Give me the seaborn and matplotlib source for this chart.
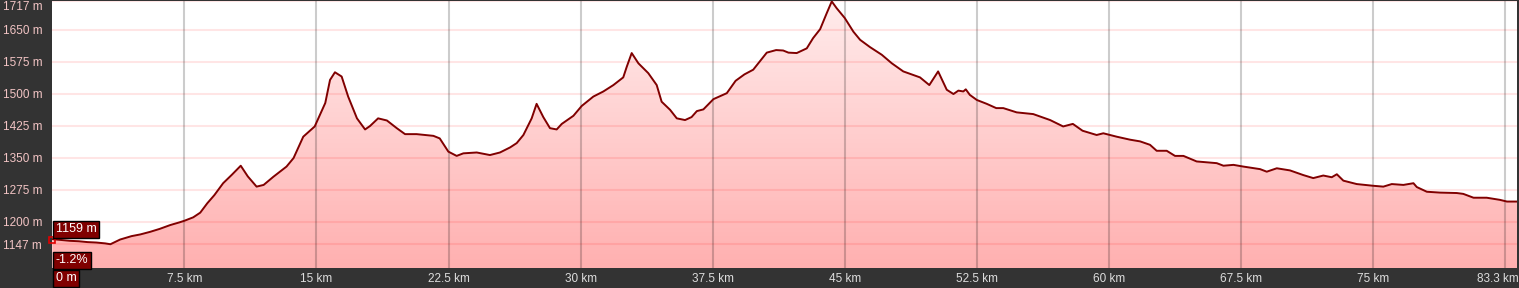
import numpy as np
import pandas as pd
import matplotlib
matplotlib.use("Agg")
import matplotlib.pyplot as plt
import matplotlib.transforms as mtransforms
from matplotlib.colors import LinearSegmentedColormap
import seaborn as sns

# ---- data ----
distance_km = [0.0, 0.5, 1.0, 1.5, 2.0, 2.5, 3.0, 3.3, 3.85, 4.5, 5.0, 5.55, 6.1, 6.7, 7.2, 7.5,
               8.0, 8.4, 8.8, 9.2, 9.7, 10.2, 10.7, 11.1, 11.6, 12.0, 12.55, 13.3, 13.7, 14.25,
               14.9, 15.5, 15.77, 16.05, 16.43, 16.8, 17.3, 17.76, 18.04, 18.5, 19.0, 19.56,
               20.03, 20.69, 21.64, 22.0, 22.49, 22.96, 23.34, 24.1, 24.85, 25.42, 26.0, 26.37,
               26.75, 27.22, 27.5, 27.88, 28.26, 28.64, 28.93, 29.59, 30.06, 30.72, 31.29, 31.86,
               32.42, 32.62, 32.9, 33.28, 33.84, 34.32, 34.6, 35.08, 35.46, 35.93, 36.3, 36.6,
               36.97, 37.54, 38.3, 38.8, 39.3, 39.8, 40.57, 41.1, 41.5, 41.8, 42.27, 42.84, 43.2,
               43.6, 43.97, 44.26, 44.54, 45.0, 45.49, 45.87, 46.43, 47.1, 47.67, 48.32, 49.27,
               49.8, 50.3, 50.79, 51.17, 51.45, 51.73, 51.87, 52.1, 52.5, 53.06, 53.6, 54.0, 54.76,
               55.7, 56.66, 57.4, 57.95, 58.5, 59.3, 59.68, 60.44, 61.2, 61.77, 62.33, 62.71,
               63.28, 63.75, 64.23, 64.98, 66.12, 66.5, 67.07, 67.63, 68.58, 68.96, 69.53, 70.28,
               71.04, 71.6, 72.17, 72.65, 72.94, 73.31, 74.07, 75.0, 75.58, 76.06, 76.72, 77.29,
               77.48, 78.05, 78.8, 79.75, 80.12, 80.7, 81.45, 82.2, 82.6, 83.25]
elevation_m = [1159, 1157, 1155, 1154, 1152, 1151, 1149, 1147, 1158, 1166, 1170, 1176, 1183, 1192, 1198, 1202,
               1210, 1221, 1243, 1262, 1290, 1310, 1331, 1306, 1282, 1286, 1305, 1329, 1349, 1399,
               1423, 1478, 1532, 1550, 1540, 1493, 1442, 1416, 1424, 1442, 1437, 1419,
               1405, 1405, 1401, 1395, 1364, 1354, 1360, 1362, 1356, 1362, 1374, 1384,
               1403, 1442, 1476, 1445, 1419, 1416, 1429, 1448, 1471, 1493, 1505, 1520,
               1538, 1563, 1595, 1571, 1548, 1520, 1481, 1462, 1442, 1438, 1445, 1459,
               1463, 1487, 1501, 1530, 1545, 1556, 1596, 1602, 1601, 1596, 1595, 1606, 1630,
               1651, 1688, 1716, 1700, 1677, 1645, 1626, 1609, 1591, 1571, 1552, 1538,
               1520, 1552, 1509, 1499, 1507, 1505, 1510, 1497, 1485, 1476, 1466, 1466, 1456,
               1452, 1438, 1423, 1429, 1413, 1403, 1407, 1399, 1392, 1388, 1380, 1366,
               1366, 1354, 1354, 1341, 1337, 1331, 1333, 1329, 1323, 1317, 1325, 1320,
               1309, 1302, 1308, 1304, 1311, 1296, 1288, 1284, 1282, 1288, 1286, 1290,
               1281, 1270, 1268, 1267, 1265, 1256, 1256, 1251, 1247, 1247]

y_ticks = [1147, 1200, 1275, 1350, 1425, 1500, 1575, 1650, 1717]
y_tick_labels = ["1147 m", "1200 m", "1275 m", "1350 m", "1425 m", "1500 m", "1575 m", "1650 m", "1717 m"]
x_ticks = [7.5, 15, 22.5, 30, 37.5, 45, 52.5, 60, 67.5, 75, 82.5]
x_tick_labels = ["7.5 km", "15 km", "22.5 km", "30 km", "37.5 km", "45 km", "52.5 km",
                 "60 km", "67.5 km", "75 km", "83.3 km"]
current_elev_label = "1159 m"
grade_label = "-1.2%"
distance_label = "0 m"

df = pd.DataFrame({"km": distance_km, "elev": elevation_m})

W, H = 1519, 288
DARK = "#333333"
FS = 8.5
plt.rcParams["font.family"] = ["Liberation Sans", "DejaVu Sans"]

fig = plt.figure(figsize=(W / 100, H / 100), dpi=100, facecolor=DARK)
ax = fig.add_axes([52.3 / W, 20 / H, (1517 - 52.3) / W, 267 / H])
ax.set_facecolor("white")

YMIN, YMAX = 1091.3, 1717
XMIN, XMAX = 0, 83.17

# gradient fill under the profile (light at top, stronger pink at bottom)
poly = ax.fill_between(df["km"], df["elev"], YMIN, color="none", lw=0, zorder=1)
grad = np.linspace(0, 1, 256).reshape(-1, 1)
cmap = LinearSegmentedColormap.from_list("pinkgrad", ["#ffecec", "#ffb0b0"])
im = ax.imshow(grad, cmap=cmap, aspect="auto", extent=[XMIN, XMAX, YMIN, YMAX],
               origin="upper", zorder=1, interpolation="bilinear")
im.set_clip_path(poly.get_paths()[0], transform=ax.transData)
ax.set_xlim(XMIN, XMAX)
ax.set_ylim(YMIN, YMAX)

# grid lines
for yv in y_ticks:
    ax.axhline(yv, color=(1, 0, 0), alpha=0.1, lw=1.5, zorder=2)
for xv in x_ticks:
    ax.axvline(xv, color="black", alpha=0.2, lw=1.5, zorder=2)

# profile line
sns.lineplot(data=df, x="km", y="elev", color="#800000", linewidth=1.4, ax=ax,
             zorder=3, estimator=None, sort=False)
ax.plot([0], [1158], marker="s", ms=4, mfc="none", mec="#e00000", mew=1.2,
        clip_on=False, zorder=4)

# axes styling
for s in ax.spines.values():
    s.set_visible(False)
ax.set_xlabel("")
ax.set_ylabel("")

ax.set_yticks(y_ticks)
ax.set_yticklabels(y_tick_labels, fontsize=FS, color="#f2c4c4")
ax.tick_params(axis="y", length=0, pad=49.3 * 72 / 100)
for lbl in ax.get_yticklabels():
    lbl.set_horizontalalignment("left")
ax.get_yticklabels()[-1].set_verticalalignment("top")

ax.set_xticks(x_ticks)
ax.set_xticklabels(x_tick_labels, fontsize=FS, color="#dddddd")
ax.tick_params(axis="x", length=0, pad=3.5)
last = ax.get_xticklabels()[-1]
last.set_horizontalalignment("right")
last.set_transform(last.get_transform() + mtransforms.ScaledTranslation(14 / 100, 0, fig.dpi_scale_trans))

box = dict(boxstyle="square,pad=0.2", facecolor="#800000", edgecolor="black", linewidth=1)
fig.text(55.5 / W, 1 - 229 / H, current_elev_label, fontsize=FS + 0.5, color="white",
         ha="left", va="center", bbox=box)
fig.text(55.5 / W, 1 - 260 / H, grade_label, fontsize=FS + 0.5, color="white",
         ha="left", va="center", bbox=box)
fig.text(55.5 / W, 1 - 278 / H, distance_label, fontsize=FS + 0.5, color="white",
         ha="left", va="center", bbox=box)

fig.savefig("out.png", dpi=100, facecolor=DARK)
